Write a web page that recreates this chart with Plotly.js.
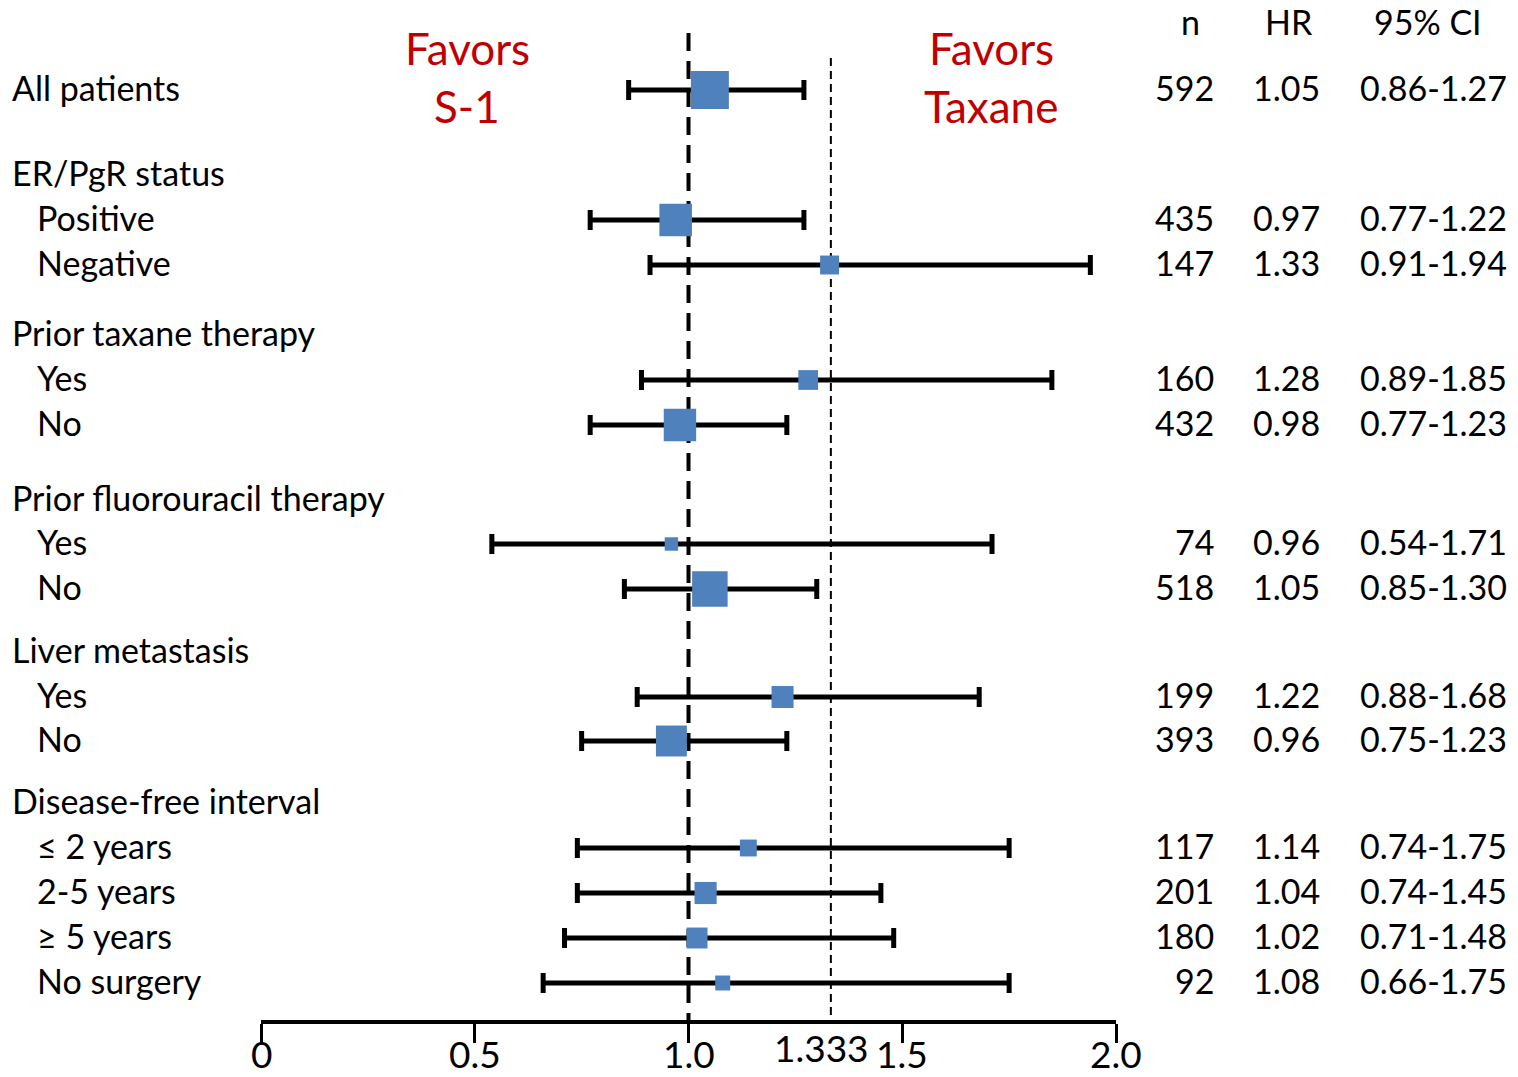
<!DOCTYPE html>
<html>
<head>
<meta charset="utf-8">
<script src="https://cdn.plot.ly/plotly-3.0.1.min.js"></script>
<style>
  html, body { margin: 0; padding: 0; background: #fff; }
  #chart { width: 1518px; height: 1077px; }
</style>
</head>
<body>
<div id="chart"></div>
<script>
// ---------------- DATA ----------------
const rowLabels = [
  "All patients",
  "ER/PgR status", "Positive", "Negative",
  "Prior taxane therapy", "Yes", "No",
  "Prior fluorouracil therapy", "Yes", "No",
  "Liver metastasis", "Yes", "No",
  "Disease-free interval", "\u2264 2 years", "2-5 years", "\u2265 5 years", "No surgery"
];
const nValues  = [592, null, 435, 147, null, 160, 432, null, 74, 518, null, 199, 393, null, 117, 201, 180, 92];
const hrValues = [1.05, null, 0.97, 1.33, null, 1.28, 0.98, null, 0.96, 1.05, null, 1.22, 0.96, null, 1.14, 1.04, 1.02, 1.08];
// whiskers as drawn in the picture
const ciLow    = [0.86, null, 0.77, 0.91, null, 0.89, 0.77, null, 0.54, 0.85, null, 0.88, 0.75, null, 0.74, 0.74, 0.71, 0.66];
const ciHigh   = [1.27, null, 1.27, 1.94, null, 1.85, 1.23, null, 1.71, 1.30, null, 1.68, 1.23, null, 1.75, 1.45, 1.48, 1.75];
// CI text as printed in the right column
const ciText   = ["0.86-1.27", null, "0.77-1.22", "0.91-1.94", null, "0.89-1.85", "0.77-1.23", null,
                  "0.54-1.71", "0.85-1.30", null, "0.88-1.68", "0.75-1.23", null,
                  "0.74-1.75", "0.74-1.45", "0.71-1.48", "0.66-1.75"];
const columnHeaders = ["n", "HR", "95% CI"];
const tickValues = [0, 0.5, 1.0, 1.5, 2.0];
const tickLabels = ["0", "0.5", "1.0", "1.5", "2.0"];
const nullLine = 1.0;
const refLine = 1.333;
const refLineLabel = "1.333";
const favorsLeft = ["Favors", "S-1"];
const favorsRight = ["Favors", "Taxane"];

// ---------------- LAYOUT CONSTANTS ----------------
const W = 1518, H = 1077;
const FONT = "Lato, 'Open Sans', sans-serif";
const rowY = [87, 172, 217, 262, 332, 377, 422, 497, 541, 586, 649, 694, 738, 800, 845, 890, 935, 980];
const indentLevel = [0, 0, 1, 1, 0, 1, 1, 0, 1, 1, 0, 1, 1, 0, 1, 1, 1, 1];
const axisY = 1020;
const px = v => v / W;
const py = v => (H - v) / H;

// ---------------- TRACE ----------------
const idx = hrValues.map((v, i) => i).filter(i => hrValues[i] !== null);
const trace = {
  type: "scatter",
  mode: "markers",
  x: idx.map(i => hrValues[i]),
  y: idx.map(i => rowY[i] + 3),
  error_x: {
    type: "data",
    symmetric: false,
    array: idx.map(i => +(ciHigh[i] - hrValues[i]).toFixed(4)),
    arrayminus: idx.map(i => +(hrValues[i] - ciLow[i]).toFixed(4)),
    color: "#000000",
    thickness: 5,
    width: 10
  },
  marker: {
    symbol: "square",
    color: "#4F81BD",
    opacity: 1,
    size: idx.map(i => 1.56 * Math.sqrt(nValues[i])),
    line: { width: 0 }
  },
  cliponaxis: false,
  hoverinfo: "skip",
  showlegend: false
};

// ---------------- ANNOTATIONS ----------------
const ann = [];
const txtFont = { family: FONT, size: 34, color: "#000" };
rowLabels.forEach((lab, i) => {
  ann.push({
    text: lab, xref: "paper", yref: "y",
    x: px(indentLevel[i] ? 35 : 10), y: rowY[i],
    xanchor: "left", yanchor: "middle", showarrow: false, font: txtFont
  });
  if (nValues[i] !== null) {
    ann.push({ text: String(nValues[i]), xref: "paper", yref: "y", x: px(1216), y: rowY[i],
      xanchor: "right", yanchor: "middle", showarrow: false, font: txtFont });
    ann.push({ text: hrValues[i].toFixed(2), xref: "paper", yref: "y", x: px(1322), y: rowY[i],
      xanchor: "right", yanchor: "middle", showarrow: false, font: txtFont });
    ann.push({ text: ciText[i], xref: "paper", yref: "y", x: px(1509), y: rowY[i],
      xanchor: "right", yanchor: "middle", showarrow: false, font: txtFont });
  }
});
const headerX = [1190, 1289, 1428];
columnHeaders.forEach((h, k) => {
  ann.push({ text: h, xref: "paper", yref: "y", x: px(headerX[k]), y: 21,
    xanchor: "center", yanchor: "middle", showarrow: false, font: txtFont });
});
const favFont = { family: FONT, size: 44, color: "#C00000" };
[[favorsLeft, 467], [favorsRight, 991]].forEach(([lines, cx]) => {
  lines.forEach((t, k) => {
    ann.push({ text: t, xref: "paper", yref: "y", x: px(cx), y: k ? 106 : 48,
      xanchor: "center", yanchor: "middle", showarrow: false, font: favFont });
  });
});
const tickFont = { family: FONT, size: 37, color: "#000" };
tickValues.forEach((v, k) => {
  ann.push({ text: tickLabels[k], xref: "x", yref: "paper", x: v, y: py(1077),
    xanchor: "center", yanchor: "bottom", borderpad: 0, showarrow: false, font: tickFont });
});
ann.push({ text: refLineLabel, xref: "x", yref: "paper", x: 1.31, y: py(1047),
  xanchor: "center", yanchor: "middle", showarrow: false, font: tickFont });

// ---------------- SHAPES ----------------
const shapes = [
  { type: "line", xref: "x", yref: "y", x0: nullLine, x1: nullLine, y0: 33, y1: axisY,
    line: { color: "#000", width: 4, dash: "18px,10px" }, layer: "below" },
  { type: "line", xref: "x", yref: "y", x0: refLine, x1: refLine, y0: 58, y1: axisY,
    line: { color: "#000", width: 2, dash: "8px,5px" }, layer: "below" }
];

const layout = {
  width: W, height: H,
  margin: { l: 0, r: 0, t: 0, b: 0, pad: 0 },
  paper_bgcolor: "#fff", plot_bgcolor: "#fff",
  showlegend: false,
  xaxis: {
    domain: [px(261), px(1116)],
    range: [0, 2],
    tickvals: tickValues, showticklabels: false,
    ticks: "outside", ticklen: 19, tickwidth: 3, tickcolor: "#000",
    showline: true, linecolor: "#000", linewidth: 4,
    showgrid: false, zeroline: false,
    fixedrange: true
  },
  yaxis: {
    domain: [(H - axisY) / H, 1],
    range: [axisY, 0],
    visible: false, showgrid: false, zeroline: false, fixedrange: true
  },
  annotations: ann,
  shapes: shapes
};

Plotly.newPlot("chart", [trace], layout, { displayModeBar: false, staticPlot: true });
</script>
</body>
</html>
